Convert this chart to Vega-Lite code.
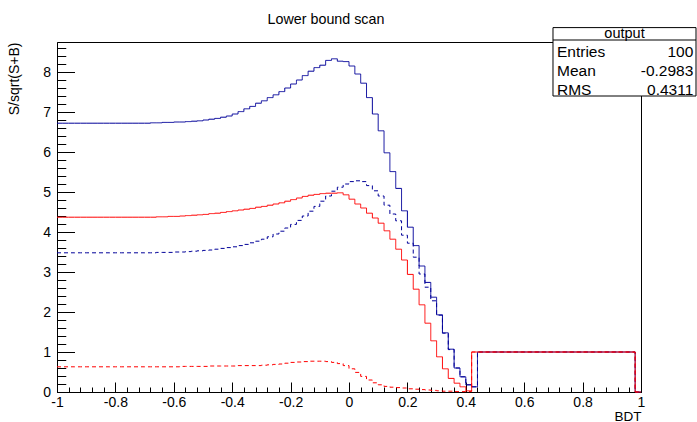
{
  "$schema": "https://vega.github.io/schema/vega-lite/v6.json",
  "width": 584,
  "height": 350,
  "autosize": {"type": "none"},
  "padding": {"left": 57, "top": 42, "right": 56, "bottom": 30},
  "background": "white",
  "config": {
    "font": "Liberation Sans",
    "view": {"stroke": "black", "strokeWidth": 1},
    "axis": {"grid": false, "domainColor": "black", "tickColor": "black", "labelColor": "black", "titleColor": "black", "labelFont": "Liberation Sans", "titleFont": "Liberation Sans", "titleFontWeight": "normal"}
  },
  "title": {"text": "Lower bound scan", "font": "Liberation Sans", "fontSize": 14.3, "fontWeight": "normal", "color": "black", "anchor": "middle", "frame": "group", "dx": -23, "dy": 15, "offset": 3, "baseline": "alphabetic"},
  "datasets": {
    "hist": [
      {"x": -1, "bs": 6.72, "bd": 3.48, "rd": 0.63, "rs": 4.37},
      {"x": -0.98, "bs": 6.72, "bd": 3.48, "rd": 0.63, "rs": 4.37},
      {"x": -0.96, "bs": 6.72, "bd": 3.48, "rd": 0.63, "rs": 4.37},
      {"x": -0.94, "bs": 6.72, "bd": 3.48, "rd": 0.63, "rs": 4.37},
      {"x": -0.92, "bs": 6.72, "bd": 3.48, "rd": 0.63, "rs": 4.37},
      {"x": -0.9, "bs": 6.72, "bd": 3.48, "rd": 0.63, "rs": 4.37},
      {"x": -0.88, "bs": 6.72, "bd": 3.48, "rd": 0.63, "rs": 4.37},
      {"x": -0.86, "bs": 6.72, "bd": 3.48, "rd": 0.63, "rs": 4.37},
      {"x": -0.84, "bs": 6.72, "bd": 3.48, "rd": 0.63, "rs": 4.37},
      {"x": -0.82, "bs": 6.72, "bd": 3.48, "rd": 0.63, "rs": 4.37},
      {"x": -0.8, "bs": 6.72, "bd": 3.48, "rd": 0.63, "rs": 4.37},
      {"x": -0.78, "bs": 6.72, "bd": 3.48, "rd": 0.63, "rs": 4.37},
      {"x": -0.76, "bs": 6.72, "bd": 3.48, "rd": 0.63, "rs": 4.37},
      {"x": -0.74, "bs": 6.72, "bd": 3.48, "rd": 0.63, "rs": 4.37},
      {"x": -0.72, "bs": 6.72, "bd": 3.48, "rd": 0.63, "rs": 4.37},
      {"x": -0.7, "bs": 6.72, "bd": 3.48, "rd": 0.63, "rs": 4.37},
      {"x": -0.68, "bs": 6.73, "bd": 3.48, "rd": 0.63, "rs": 4.37},
      {"x": -0.66, "bs": 6.73, "bd": 3.49, "rd": 0.63, "rs": 4.38},
      {"x": -0.64, "bs": 6.74, "bd": 3.49, "rd": 0.63, "rs": 4.38},
      {"x": -0.62, "bs": 6.74, "bd": 3.49, "rd": 0.63, "rs": 4.39},
      {"x": -0.6, "bs": 6.75, "bd": 3.5, "rd": 0.63, "rs": 4.39},
      {"x": -0.58, "bs": 6.75, "bd": 3.5, "rd": 0.64, "rs": 4.4},
      {"x": -0.56, "bs": 6.76, "bd": 3.51, "rd": 0.64, "rs": 4.41},
      {"x": -0.54, "bs": 6.77, "bd": 3.52, "rd": 0.64, "rs": 4.42},
      {"x": -0.52, "bs": 6.78, "bd": 3.53, "rd": 0.64, "rs": 4.43},
      {"x": -0.5, "bs": 6.8, "bd": 3.54, "rd": 0.64, "rs": 4.44},
      {"x": -0.48, "bs": 6.82, "bd": 3.55, "rd": 0.65, "rs": 4.46},
      {"x": -0.46, "bs": 6.84, "bd": 3.57, "rd": 0.65, "rs": 4.47},
      {"x": -0.44, "bs": 6.87, "bd": 3.59, "rd": 0.65, "rs": 4.49},
      {"x": -0.42, "bs": 6.9, "bd": 3.61, "rd": 0.65, "rs": 4.51},
      {"x": -0.4, "bs": 6.95, "bd": 3.63, "rd": 0.65, "rs": 4.53},
      {"x": -0.38, "bs": 7.01, "bd": 3.66, "rd": 0.66, "rs": 4.55},
      {"x": -0.36, "bs": 7.08, "bd": 3.69, "rd": 0.66, "rs": 4.57},
      {"x": -0.34, "bs": 7.14, "bd": 3.73, "rd": 0.66, "rs": 4.59},
      {"x": -0.32, "bs": 7.22, "bd": 3.77, "rd": 0.66, "rs": 4.62},
      {"x": -0.3, "bs": 7.28, "bd": 3.82, "rd": 0.67, "rs": 4.64},
      {"x": -0.28, "bs": 7.36, "bd": 3.88, "rd": 0.68, "rs": 4.67},
      {"x": -0.26, "bs": 7.43, "bd": 3.95, "rd": 0.69, "rs": 4.7},
      {"x": -0.24, "bs": 7.51, "bd": 4.02, "rd": 0.7, "rs": 4.73},
      {"x": -0.22, "bs": 7.6, "bd": 4.1, "rd": 0.72, "rs": 4.77},
      {"x": -0.2, "bs": 7.7, "bd": 4.19, "rd": 0.74, "rs": 4.81},
      {"x": -0.18, "bs": 7.8, "bd": 4.29, "rd": 0.75, "rs": 4.85},
      {"x": -0.16, "bs": 7.91, "bd": 4.4, "rd": 0.76, "rs": 4.89},
      {"x": -0.14, "bs": 8.02, "bd": 4.52, "rd": 0.77, "rs": 4.92},
      {"x": -0.12, "bs": 8.11, "bd": 4.64, "rd": 0.77, "rs": 4.94},
      {"x": -0.1, "bs": 8.17, "bd": 4.77, "rd": 0.77, "rs": 4.96},
      {"x": -0.08, "bs": 8.29, "bd": 4.9, "rd": 0.76, "rs": 4.97},
      {"x": -0.06, "bs": 8.33, "bd": 5.02, "rd": 0.74, "rs": 4.97},
      {"x": -0.04, "bs": 8.27, "bd": 5.12, "rd": 0.71, "rs": 4.98},
      {"x": -0.02, "bs": 8.26, "bd": 5.2, "rd": 0.66, "rs": 4.93},
      {"x": 0, "bs": 8.15, "bd": 5.26, "rd": 0.58, "rs": 4.82},
      {"x": 0.02, "bs": 7.95, "bd": 5.28, "rd": 0.49, "rs": 4.7},
      {"x": 0.04, "bs": 7.72, "bd": 5.26, "rd": 0.39, "rs": 4.6},
      {"x": 0.06, "bs": 7.36, "bd": 5.16, "rd": 0.3, "rs": 4.47},
      {"x": 0.08, "bs": 6.95, "bd": 5.03, "rd": 0.23, "rs": 4.35},
      {"x": 0.1, "bs": 6.53, "bd": 4.9, "rd": 0.18, "rs": 4.22},
      {"x": 0.12, "bs": 5.98, "bd": 4.67, "rd": 0.14, "rs": 4.03},
      {"x": 0.14, "bs": 5.51, "bd": 4.45, "rd": 0.12, "rs": 3.82},
      {"x": 0.16, "bs": 5.09, "bd": 4.28, "rd": 0.11, "rs": 3.57},
      {"x": 0.18, "bs": 4.53, "bd": 3.92, "rd": 0.1, "rs": 3.3},
      {"x": 0.2, "bs": 4.12, "bd": 3.72, "rd": 0.08, "rs": 2.94},
      {"x": 0.22, "bs": 3.66, "bd": 3.37, "rd": 0.07, "rs": 2.57},
      {"x": 0.24, "bs": 3.15, "bd": 2.95, "rd": 0.06, "rs": 2.18},
      {"x": 0.26, "bs": 2.74, "bd": 2.62, "rd": 0.05, "rs": 1.72},
      {"x": 0.28, "bs": 2.37, "bd": 2.28, "rd": 0.04, "rs": 1.28},
      {"x": 0.3, "bs": 1.93, "bd": 1.92, "rd": 0.03, "rs": 0.88},
      {"x": 0.32, "bs": 1.48, "bd": 1.47, "rd": 0.02, "rs": 0.58},
      {"x": 0.34, "bs": 1.07, "bd": 1.06, "rd": 0.02, "rs": 0.34},
      {"x": 0.36, "bs": 0.6, "bd": 0.6, "rd": 0.01, "rs": 0.22},
      {"x": 0.38, "bs": 0.38, "bd": 0.38, "rd": 0.01, "rs": 0.13},
      {"x": 0.4, "bs": 0.18, "bd": 0.18, "rd": 0.01, "rs": 0.03},
      {"x": 0.42, "bs": 0.13, "bd": 0.13, "rd": 1, "rs": 1},
      {"x": 0.44, "bs": 1, "bd": 1, "rd": 1, "rs": 1},
      {"x": 0.46, "bs": 1, "bd": 1, "rd": 1, "rs": 1},
      {"x": 0.48, "bs": 1, "bd": 1, "rd": 1, "rs": 1},
      {"x": 0.5, "bs": 1, "bd": 1, "rd": 1, "rs": 1},
      {"x": 0.52, "bs": 1, "bd": 1, "rd": 1, "rs": 1},
      {"x": 0.54, "bs": 1, "bd": 1, "rd": 1, "rs": 1},
      {"x": 0.56, "bs": 1, "bd": 1, "rd": 1, "rs": 1},
      {"x": 0.58, "bs": 1, "bd": 1, "rd": 1, "rs": 1},
      {"x": 0.6, "bs": 1, "bd": 1, "rd": 1, "rs": 1},
      {"x": 0.62, "bs": 1, "bd": 1, "rd": 1, "rs": 1},
      {"x": 0.64, "bs": 1, "bd": 1, "rd": 1, "rs": 1},
      {"x": 0.66, "bs": 1, "bd": 1, "rd": 1, "rs": 1},
      {"x": 0.68, "bs": 1, "bd": 1, "rd": 1, "rs": 1},
      {"x": 0.7, "bs": 1, "bd": 1, "rd": 1, "rs": 1},
      {"x": 0.72, "bs": 1, "bd": 1, "rd": 1, "rs": 1},
      {"x": 0.74, "bs": 1, "bd": 1, "rd": 1, "rs": 1},
      {"x": 0.76, "bs": 1, "bd": 1, "rd": 1, "rs": 1},
      {"x": 0.78, "bs": 1, "bd": 1, "rd": 1, "rs": 1},
      {"x": 0.8, "bs": 1, "bd": 1, "rd": 1, "rs": 1},
      {"x": 0.82, "bs": 1, "bd": 1, "rd": 1, "rs": 1},
      {"x": 0.84, "bs": 1, "bd": 1, "rd": 1, "rs": 1},
      {"x": 0.86, "bs": 1, "bd": 1, "rd": 1, "rs": 1},
      {"x": 0.88, "bs": 1, "bd": 1, "rd": 1, "rs": 1},
      {"x": 0.9, "bs": 1, "bd": 1, "rd": 1, "rs": 1},
      {"x": 0.92, "bs": 1, "bd": 1, "rd": 1, "rs": 1},
      {"x": 0.94, "bs": 1, "bd": 1, "rd": 1, "rs": 1},
      {"x": 0.96, "bs": 1, "bd": 1, "rd": 1, "rs": 1},
      {"x": 0.98, "bs": 0, "bd": 0, "rd": 0, "rs": 0},
      {"x": 1, "bs": 0, "bd": 0, "rd": 0, "rs": 0}
    ]
  },
  "layer": [
    {
      "data": {"name": "hist"},
      "transform": [{"fold": ["bs", "bd", "rd", "rs"], "as": ["series", "value"]}],
      "mark": {"type": "line", "interpolate": "step-after", "strokeWidth": 1, "clip": false},
      "encoding": {
        "x": {"field": "x", "type": "quantitative",
          "scale": {"domain": [-1, 1], "nice": false, "zero": false},
          "axis": {"orient": "bottom", "values": [-1, -0.8, -0.6, -0.4, -0.2, 0, 0.2, 0.4, 0.6, 0.8, 1],
            "labelExpr": "datum.value < 0 ? '-' + format(-datum.value, '.1~f') : format(datum.value, '.1~f')",
            "labelFontSize": 14, "labelPadding": 13.5, "labelFlush": false, "labelOverlap": false,
            "tickSize": -10, "tickWidth": 1, "domainWidth": 1,
            "title": "BDT", "titleFontSize": 13.5, "titleAlign": "right", "titleAnchor": "end",
            "titleX": 584, "titleY": 28, "titleBaseline": "alphabetic"}},
        "y": {"field": "value", "type": "quantitative",
          "scale": {"domain": [0, 8.75], "nice": false, "zero": false},
          "axis": {"orient": "left", "values": [0, 1, 2, 3, 4, 5, 6, 7, 8], "format": "d",
            "labelFontSize": 14, "labelPadding": 24, "labelOverlap": false, "labelFlush": false,
            "tickSize": -17.5, "tickWidth": 1, "domainWidth": 1,
            "title": "S/sqrt(S+B)", "titleFontSize": 14, "titleAngle": 270, "titleAlign": "right",
            "titleBaseline": "middle", "titleX": -43, "titleY": 0}},
        "color": {"field": "series", "type": "nominal",
          "scale": {"domain": ["bs", "bd", "rd", "rs"], "range": ["#000099", "#000099", "#ff0000", "#ff0000"]},
          "legend": null},
        "strokeDash": {"field": "series", "type": "nominal",
          "scale": {"domain": ["bs", "bd", "rd", "rs"], "range": [[1, 0], [4, 3], [4, 3], [1, 0]]},
          "legend": null}
      }
    },
    {
      "data": {"values": [{}]},
      "mark": {"type": "point", "opacity": 0},
      "encoding": {
        "x": {"datum": 0, "type": "quantitative",
          "scale": {"domain": [-1, 1], "nice": false, "zero": false},
          "axis": {"orient": "bottom", "labels": false, "domain": false, "title": null, "tickSize": -5, "tickWidth": 1,
            "values": [-1, -0.96, -0.92, -0.88, -0.84, -0.8, -0.76, -0.72, -0.68, -0.64, -0.6, -0.56, -0.52, -0.48, -0.44, -0.4, -0.36, -0.32, -0.28, -0.24, -0.2, -0.16, -0.12, -0.08, -0.04, 0, 0.04, 0.08, 0.12, 0.16, 0.2, 0.24, 0.28, 0.32, 0.36, 0.4, 0.44, 0.48, 0.52, 0.56, 0.6, 0.64, 0.68, 0.72, 0.76, 0.8, 0.84, 0.88, 0.92, 0.96, 1]}},
        "y": {"datum": 0, "type": "quantitative",
          "scale": {"domain": [0, 8.75], "nice": false, "zero": false},
          "axis": {"orient": "left", "labels": false, "domain": false, "title": null, "tickSize": -8.75, "tickWidth": 1,
            "values": [0.2, 0.4, 0.6, 0.8, 1.2, 1.4, 1.6, 1.8, 2.2, 2.4, 2.6, 2.8, 3.2, 3.4, 3.6, 3.8, 4.2, 4.4, 4.6, 4.8, 5.2, 5.4, 5.6, 5.8, 6.2, 6.4, 6.6, 6.8, 7.2, 7.4, 7.6, 7.8, 8.2, 8.4, 8.6]}}
      }
    },
    {
      "data": {"values": [{}]},
      "mark": {"type": "rect", "fill": "white", "stroke": "black", "strokeWidth": 1, "clip": false},
      "encoding": {
        "x": {"datum": 0.6986, "type": "quantitative", "scale": {"domain": [-1, 1], "nice": false, "zero": false}, "axis": null},
        "x2": {"datum": 1.1884},
        "y": {"datum": 9.11, "type": "quantitative", "scale": {"domain": [0, 8.75], "nice": false, "zero": false}, "axis": null},
        "y2": {"datum": 7.4}
      }
    },
    {
      "data": {"values": [{}]},
      "mark": {"type": "rule", "color": "black", "strokeWidth": 1, "clip": false},
      "encoding": {
        "x": {"datum": 0.6986, "type": "quantitative", "scale": {"domain": [-1, 1], "nice": false, "zero": false}, "axis": null},
        "x2": {"datum": 1.1884},
        "y": {"datum": 8.8, "type": "quantitative", "scale": {"domain": [0, 8.75], "nice": false, "zero": false}, "axis": null}
      }
    },
    {
      "data": {"values": [{}]},
      "mark": {"type": "text", "text": "output", "font": "Liberation Sans", "fontSize": 14.5, "align": "center", "baseline": "alphabetic", "color": "black"},
      "encoding": {
        "x": {"datum": 0.9435, "type": "quantitative", "scale": {"domain": [-1, 1], "nice": false, "zero": false}, "axis": null},
        "y": {"datum": 8.85, "type": "quantitative", "scale": {"domain": [0, 8.75], "nice": false, "zero": false}, "axis": null}
      }
    },
    {
      "data": {"values": [{}]},
      "mark": {"type": "text", "text": ["Entries", "Mean", "RMS"], "lineHeight": 19, "font": "Liberation Sans", "fontSize": 15.5, "align": "left", "baseline": "alphabetic", "color": "black"},
      "encoding": {
        "x": {"datum": 0.7123, "type": "quantitative", "scale": {"domain": [-1, 1], "nice": false, "zero": false}, "axis": null},
        "y": {"datum": 8.375, "type": "quantitative", "scale": {"domain": [0, 8.75], "nice": false, "zero": false}, "axis": null}
      }
    },
    {
      "data": {"values": [{}]},
      "mark": {"type": "text", "text": ["100", "-0.2983", "0.4311"], "lineHeight": 19, "font": "Liberation Sans", "fontSize": 15.5, "align": "right", "baseline": "alphabetic", "color": "black"},
      "encoding": {
        "x": {"datum": 1.1791, "type": "quantitative", "scale": {"domain": [-1, 1], "nice": false, "zero": false}, "axis": null},
        "y": {"datum": 8.375, "type": "quantitative", "scale": {"domain": [0, 8.75], "nice": false, "zero": false}, "axis": null}
      }
    }
  ],
  "resolve": {"axis": {"x": "independent", "y": "independent"}}
}
